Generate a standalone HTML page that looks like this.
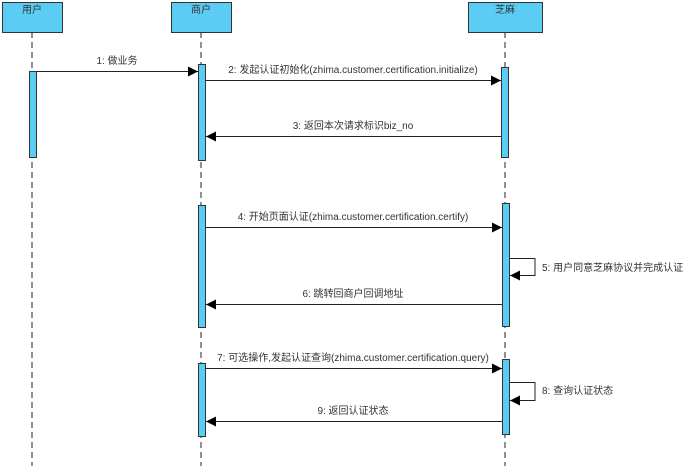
<!DOCTYPE html>
<html><head><meta charset="utf-8"><style>
html,body{margin:0;padding:0;background:#fff;width:692px;height:466px;overflow:hidden}
svg text{font-family:"Liberation Sans","Noto Sans CJK SC",sans-serif;font-size:10px;fill:#333}
</style></head><body>
<svg width="692" height="466" viewBox="0 0 692 466" xmlns="http://www.w3.org/2000/svg">
<defs><marker id="a" markerWidth="10" markerHeight="10" refX="10" refY="5" orient="auto" markerUnits="userSpaceOnUse"><path d="M0,0 L10,5 L0,10 z" fill="#000"/></marker></defs>
<g stroke="#222" stroke-dasharray="6,4" stroke-width="1">
<line x1="32" y1="32" x2="32" y2="466"/><line x1="201" y1="32" x2="201" y2="466"/><line x1="505" y1="32" x2="505" y2="466"/></g>
<g fill="#5bcdf5" stroke="#333" stroke-width="1">
<rect x="2.5" y="2.5" width="60" height="30"/><rect x="171.5" y="2.5" width="60" height="30"/><rect x="468.5" y="2.5" width="74" height="30"/>
<rect x="29.5" y="71.5" width="7" height="86"/>
<rect x="198.5" y="64.5" width="7" height="96"/>
<rect x="198.5" y="205.5" width="7" height="122"/>
<rect x="198.5" y="363.5" width="7" height="73"/>
<rect x="501.5" y="67.5" width="7" height="90"/>
<rect x="502.5" y="203.5" width="7" height="123"/>
<rect x="502.5" y="359.5" width="7" height="75"/>
</g>
<g text-anchor="middle"><text x="32" y="13">用户</text><text x="201" y="13">商户</text><text x="505" y="13">芝麻</text></g>
<g stroke="#222" stroke-width="1" fill="none" marker-end="url(#a)">
<line x1="37" y1="71.5" x2="198" y2="71.5"/>
<line x1="206" y1="80.5" x2="501" y2="80.5"/>
<line x1="501" y1="136.5" x2="206" y2="136.5"/>
<line x1="206" y1="227.5" x2="502" y2="227.5"/>
<polyline points="510,258.5 535,258.5 535,275.5 510,275.5"/>
<line x1="502" y1="304.5" x2="206" y2="304.5"/>
<line x1="206" y1="368.5" x2="502" y2="368.5"/>
<polyline points="510,382.5 535,382.5 535,400.5 510,400.5"/>
<line x1="502" y1="421.5" x2="206" y2="421.5"/>
</g>
<g text-anchor="middle">
<text x="117" y="64">1: 做业务</text>
<text x="353" y="73">2: 发起认证初始化(zhima.customer.certification.initialize)</text>
<text x="353" y="129">3: 返回本次请求标识biz_no</text>
<text x="353" y="220">4: 开始页面认证(zhima.customer.certification.certify)</text>
<text x="353" y="297">6: 跳转回商户回调地址</text>
<text x="353" y="361">7: 可选操作,发起认证查询(zhima.customer.certification.query)</text>
<text x="353" y="414">9: 返回认证状态</text>
</g>
<text x="542" y="271">5: 用户同意芝麻协议并完成认证</text>
<text x="542" y="394">8: 查询认证状态</text>
</svg>
</body></html>
